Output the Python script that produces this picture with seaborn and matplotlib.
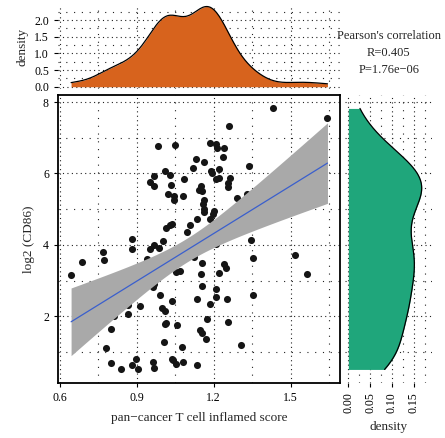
import numpy as np
import pandas as pd
import matplotlib
matplotlib.use("Agg")
import matplotlib.pyplot as plt
import seaborn as sns
from matplotlib.ticker import MultipleLocator

# pan-cancer T cell inflamed score (x) and log2(CD86) (y)
score = [0.645, 0.688, 0.770, 0.772, 0.882, 0.882, 0.811, 0.779, 0.801, 0.801,
         0.840, 0.867, 0.867, 0.882, 0.898, 0.907, 0.915, 0.941, 0.951, 0.969,
         0.969, 0.985, 0.954, 0.967, 0.988, 0.962, 0.969, 0.962, 0.967, 0.992,
         1.003, 1.011, 1.029, 1.034, 1.022, 1.044, 1.044, 1.016, 1.031, 1.039,
         1.048, 1.083, 1.080, 0.998, 1.011, 1.013, 1.011, 1.006, 1.036, 1.053,
         1.070, 1.057, 1.078, 1.036, 1.041, 1.053, 1.080, 1.096, 1.109, 1.119,
         1.130, 1.164, 1.122, 1.137, 1.143, 1.151, 1.156, 1.164, 1.159, 1.161,
         1.161, 1.184, 1.197, 1.202, 1.154, 1.151, 1.155, 1.135, 1.184, 1.176,
         1.148, 1.154, 1.171, 1.135, 1.208, 1.210, 1.210, 1.219, 1.241, 1.249,
         1.252, 1.257, 1.187, 1.208, 1.213, 1.239, 1.236, 1.188, 1.195, 1.219,
         1.210, 1.219, 1.264, 1.257, 1.254, 1.260, 1.290, 1.329, 1.306, 1.337,
         1.345, 1.353, 1.353, 1.430, 1.517, 1.562, 1.643]
cd86 = [3.15, 3.52, 3.80, 3.57, 4.15, 3.89, 2.00, 1.10, 1.63, 0.70,
        0.53, 2.31, 2.07, 0.63, 0.81, 0.51, 2.28, 3.59, 5.76, 5.92,
        5.64, 6.76, 3.87, 3.99, 3.92, 2.82, 2.91, 0.72, 0.56, 2.59,
        4.10, 6.07, 5.95, 5.67, 5.41, 5.36, 5.25, 4.47, 4.55, 4.58,
        6.79, 5.83, 5.36, 2.24, 2.15, 1.81, 1.77, 1.28, 2.42, 3.24,
        3.27, 1.75, 1.13, 0.81, 0.77, 0.66, 0.71, 4.36, 4.55, 6.15,
        6.41, 6.31, 3.66, 4.73, 5.53, 5.64, 5.51, 5.25, 5.14, 5.00,
        4.91, 4.71, 4.86, 4.94, 3.49, 3.19, 2.84, 2.47, 2.33, 1.91,
        1.61, 1.53, 1.37, 0.63, 2.54, 2.76, 4.02, 3.21, 3.47, 3.35,
        2.49, 1.84, 6.85, 6.83, 6.72, 6.70, 6.46, 6.07, 6.01, 6.11,
        5.85, 5.88, 5.88, 5.73, 5.62, 7.32, 5.32, 5.42, 1.18, 6.20,
        4.13, 3.64, 2.59, 7.82, 3.71, 3.18, 7.55]

stat_text = "Pearson's correlation\nR=0.405\nP=1.76e\u221206"

df = pd.DataFrame({"score": score, "cd86": cd86})

sns.set_style("white")
plt.rcParams["font.family"] = ["Liberation Serif", "DejaVu Serif"]
plt.rcParams["axes.unicode_minus"] = True

ORANGE = "#D7631D"
GREEN = "#1FA67B"
MAJOR_LS = (0, (1, 3))
MINOR_LS = (0, (1, 6))


def nrd0_factor(v):
    # R's bw.nrd0 expressed as a factor of the sample sd
    v = np.asarray(v)
    sd = v.std(ddof=1)
    iqr = np.subtract(*np.percentile(v, [75, 25]))
    bw = 0.9 * min(sd, iqr / 1.34) * len(v) ** -0.2
    return bw / sd


def dotted_grid(ax):
    ax.set_axisbelow(True)
    ax.grid(True, which="major", color="#222222", lw=0.8, linestyle=MAJOR_LS)
    ax.grid(True, which="minor", color="#222222", lw=0.8, linestyle=MINOR_LS)
    ax.tick_params(which="minor", length=0)


fig = plt.figure(figsize=(4.45, 4.38), dpi=100)
ax = fig.add_axes([0.1303, 0.1256, 0.6327, 0.657])
ax_top = fig.add_axes([0.1303, 0.797, 0.6327, 0.192])
ax_right = fig.add_axes([0.775, 0.1256, 0.196, 0.657])

# ---- main scatter + linear fit ----
sns.scatterplot(data=df, x="score", y="cd86", ax=ax, color="#151515",
                s=26, linewidth=0, zorder=2)

x = np.asarray(score)
y = np.asarray(cd86)
n = len(x)
b1, b0 = np.polyfit(x, y, 1)
resid = y - (b0 + b1 * x)
s_err = np.sqrt(np.sum(resid ** 2) / (n - 2))
xs = np.linspace(x.min(), x.max(), 100)
fit = b0 + b1 * xs
se = s_err * np.sqrt(1 / n + (xs - x.mean()) ** 2 / np.sum((x - x.mean()) ** 2))
ax.fill_between(xs, fit - 1.98 * se, fit + 1.98 * se, color="#A9A9A9",
                lw=0, zorder=3)
ax.plot(xs, fit, color="#3A5FCD", lw=0.9, zorder=4)

ax.set_xlim(0.594, 1.69)
ax.set_ylim(0.13, 8.19)
ax.xaxis.set_major_locator(MultipleLocator(0.3))
ax.xaxis.set_minor_locator(MultipleLocator(0.15))
ax.yaxis.set_major_locator(MultipleLocator(2))
ax.yaxis.set_minor_locator(MultipleLocator(1))
ax.xaxis.set_major_formatter(plt.FuncFormatter(lambda v, p: f"{v:.1f}"))
dotted_grid(ax)
for sp in ax.spines.values():
    sp.set_color("black")
    sp.set_linewidth(1.3)
ax.tick_params(which="major", direction="out", length=3, width=0.8,
               labelsize=8.5, left=True, bottom=True, colors="black")
ax.set_xlabel("pan\u2212cancer T cell inflamed score", fontsize=9.5, labelpad=6)
ax.set_ylabel("log2 (CD86)", fontsize=9.5, labelpad=6)

# ---- top marginal density ----
sns.kdeplot(data=df, x="score", ax=ax_top, fill=True, cut=0,
            bw_method=nrd0_factor(score), color=ORANGE, alpha=1, linewidth=0)
sns.kdeplot(data=df, x="score", ax=ax_top, fill=False, cut=0,
            bw_method=nrd0_factor(score), color="black", linewidth=0.9)
ax_top.set_xlim(ax.get_xlim())
ax_top.set_ylim(-0.066, 2.46)
ax_top.xaxis.set_major_locator(MultipleLocator(0.3))
ax_top.xaxis.set_minor_locator(MultipleLocator(0.15))
ax_top.yaxis.set_major_locator(MultipleLocator(0.5))
ax_top.yaxis.set_minor_locator(MultipleLocator(0.25))
ax_top.yaxis.set_major_formatter(plt.FuncFormatter(lambda v, p: f"{v:.1f}"))
dotted_grid(ax_top)
for sp in ax_top.spines.values():
    sp.set_visible(False)
ax_top.tick_params(axis="y", which="major", direction="out", length=3,
                   width=0.8, labelsize=8.5, left=True, colors="black")
ax_top.tick_params(axis="x", which="major", length=0, labelbottom=False)
ax_top.set_xlabel("")
ax_top.set_ylabel("density", fontsize=9.5, labelpad=4)

# ---- right marginal density ----
sns.kdeplot(data=df, y="cd86", ax=ax_right, fill=True, cut=0,
            bw_method=nrd0_factor(cd86), color=GREEN, alpha=1, linewidth=0)
sns.kdeplot(data=df, y="cd86", ax=ax_right, fill=False, cut=0,
            bw_method=nrd0_factor(cd86), color="black", linewidth=0.9)
ax_right.set_ylim(ax.get_ylim())
ax_right.set_xlim(-0.008, 0.192)
ax_right.xaxis.set_major_locator(MultipleLocator(0.05))
ax_right.xaxis.set_minor_locator(MultipleLocator(0.025))
ax_right.yaxis.set_major_locator(MultipleLocator(2))
ax_right.yaxis.set_minor_locator(MultipleLocator(1))
ax_right.xaxis.set_major_formatter(plt.FuncFormatter(lambda v, p: f"{v:.2f}"))
dotted_grid(ax_right)
for sp in ax_right.spines.values():
    sp.set_visible(False)
ax_right.tick_params(axis="x", which="major", direction="out", length=3,
                     width=0.8, labelsize=8.5, bottom=True, colors="black",
                     labelrotation=90)
ax_right.tick_params(axis="y", which="major", length=0, labelleft=False)
ax_right.set_ylabel("")
ax_right.set_xlabel("density", fontsize=9.5, labelpad=6)

fig.text(0.874, 0.932, stat_text, ha="center", va="top", fontsize=9,
         linespacing=1.55)

fig.savefig("out.png", dpi=100)
